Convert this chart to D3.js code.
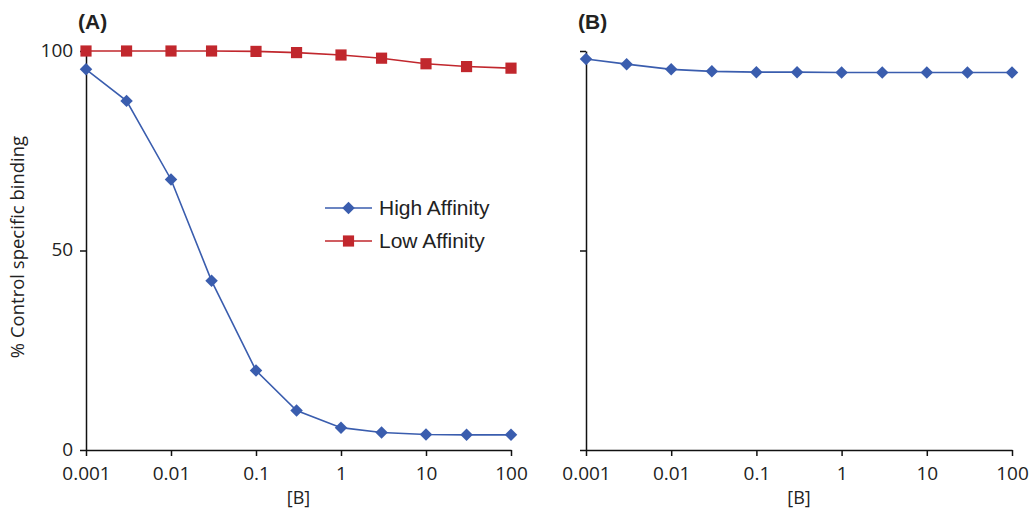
<!DOCTYPE html>
<html>
<head>
  <meta charset="utf-8">
  <title>Control specific binding</title>
  <script src="https://d3js.org/d3.v7.min.js"></script>
  <style>
    body { margin: 0; background: #fff; }
    .tick text { font-family: "Open Sans", sans-serif; font-size: 19px; fill: #222; }
    .axis path, .axis line { stroke: #111; stroke-width: 1.5; }
  </style>
</head>
<body>
<svg id="chart" width="1030" height="513"></svg>
<script>
  // data
  var conc = [0.001, 0.003, 0.01, 0.03, 0.1, 0.3, 1, 3, 10, 30, 100];
  var highA = [95.4, 87.5, 67.8, 42.4, 19.9, 9.9, 5.6, 4.4, 3.9, 3.8, 3.8];
  var lowA = [100, 100, 100, 100, 99.9, 99.6, 99.0, 98.2, 96.8, 96.1, 95.7];
  var highB = [98.0, 96.7, 95.4, 94.9, 94.7, 94.7, 94.6, 94.6, 94.6, 94.6, 94.6];
  var xTicks = [0.001, 0.01, 0.1, 1, 10, 100];
  var xTickLabels = ["0.001", "0.01", "0.1", "1", "10", "100"];
  var yTicks = [0, 50, 100];

  var blue = "#3a5dae";
  var red = "#c1272d";

  var svg = d3.select("#chart");
  var y = d3.scaleLinear().domain([0, 100]).range([450, 51]);

  // diamond = square turned 45 degrees
  function marker(sel, kind) {
    if (kind === "diamond") {
      sel.attr("d", d3.symbol().type(d3.symbolSquare).size(78)())
        .attr("transform", function(d) { return d.t + " rotate(45)"; });
    } else {
      sel.attr("d", d3.symbol().type(d3.symbolSquare).size(125)())
        .attr("transform", function(d) { return d.t; });
    }
  }

  function panel(x0, x1, label, showYLabels, series) {
    var x = d3.scaleLog().domain([0.001, 100]).range([x0, x1]);
    var g = svg.append("g");

    g.append("g").attr("class", "axis")
      .attr("transform", "translate(0,450)")
      .call(d3.axisBottom(x).tickValues(xTicks).tickSize(6).tickSizeOuter(0)
        .tickFormat(function(d, i) { return xTickLabels[i]; }))
      .selectAll("text").attr("dy", "1.13em");

    var ya = g.append("g").attr("class", "axis")
      .attr("transform", "translate(" + x0 + ",0)")
      .call(d3.axisLeft(y).tickValues(yTicks).tickSize(6).tickSizeOuter(0)
        .tickFormat(showYLabels ? d3.format("d") : function() { return ""; }));
    ya.selectAll("text").attr("dx", "-0.2em").attr("dy", "0.28em");

    g.append("text")
      .attr("x", x0 - 8).attr("y", 29)
      .style("font-family", "Liberation Sans, Arial, sans-serif")
      .style("font-weight", "bold").style("font-size", "21px").style("fill", "#222")
      .text(label);

    g.append("text")
      .attr("x", (x0 + x1) / 2).attr("y", 504)
      .attr("text-anchor", "middle")
      .style("font-family", "Open Sans, sans-serif").style("font-size", "18px").style("fill", "#222")
      .text("[B]");

    series.forEach(function(s) {
      var line = d3.line()
        .x(function(d, i) { return x(conc[i]); })
        .y(function(d) { return y(d); });
      g.append("path").datum(s.values)
        .attr("d", line).attr("fill", "none")
        .attr("stroke", s.color).attr("stroke-width", 1.6);
      g.selectAll(null)
        .data(s.values.map(function(v, i) { return { t: "translate(" + x(conc[i]) + "," + y(v) + ")" }; }))
        .enter().append("path")
        .call(marker, s.kind)
        .attr("fill", s.color);
    });
  }

  panel(86, 511, "(A)", true, [
    { values: lowA, color: red, kind: "square" },
    { values: highA, color: blue, kind: "diamond" }
  ]);
  panel(586, 1012, "(B)", false, [
    { values: highB, color: blue, kind: "diamond" }
  ]);

  // y axis title
  svg.append("text")
    .attr("transform", "translate(24,247) rotate(-90)")
    .attr("text-anchor", "middle")
    .style("font-family", "Open Sans, sans-serif").style("font-size", "18.5px").style("fill", "#222")
    .text("% Control specific binding");

  // legend
  var legend = [
    { name: "High Affinity", color: blue, kind: "diamond" },
    { name: "Low Affinity", color: red, kind: "square" }
  ];
  var lg = svg.selectAll(".leg").data(legend).enter().append("g")
    .attr("transform", function(d, i) { return "translate(325," + (208 + i * 33) + ")"; });
  lg.append("line").attr("x1", 0).attr("x2", 47)
    .attr("stroke", function(d) { return d.color; }).attr("stroke-width", 1.6);
  lg.each(function(d) {
    d3.select(this).append("path").datum({ t: "translate(23.5,0)" })
      .call(marker, d.kind).attr("fill", d.color);
  });
  lg.append("text").attr("x", 54).attr("y", 7)
    .style("font-family", "Liberation Sans, Arial, sans-serif").style("font-size", "21px").style("fill", "#222")
    .text(function(d) { return d.name; });
</script>
</body>
</html>
